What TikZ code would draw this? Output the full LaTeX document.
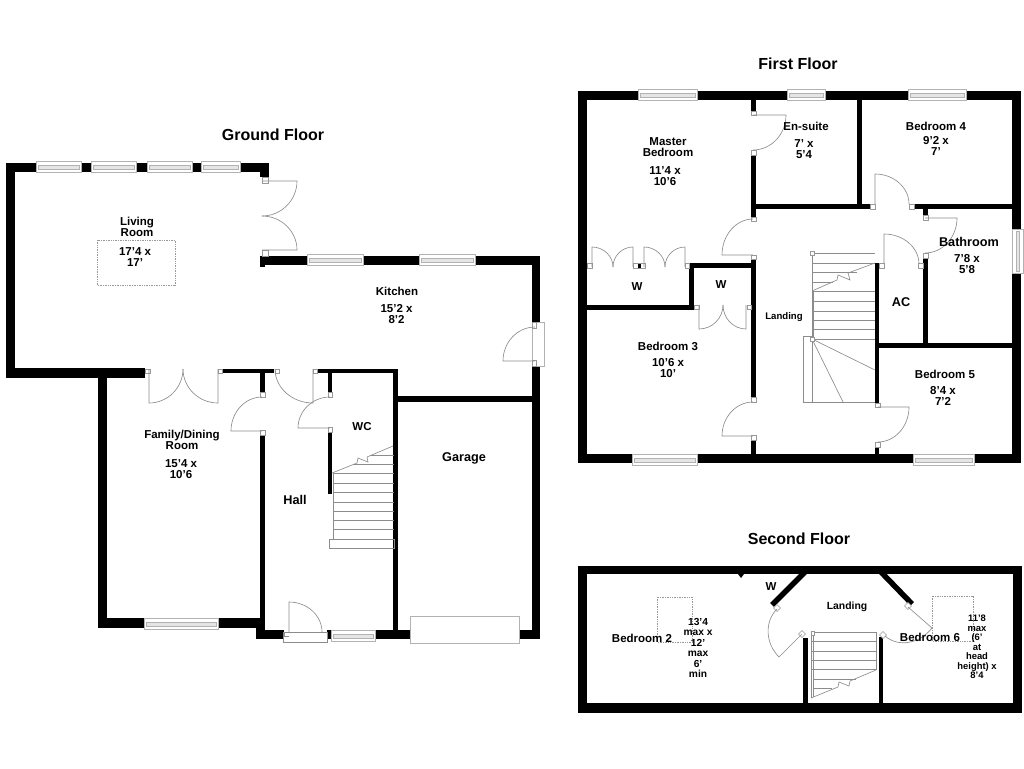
\documentclass[tikz,border=0pt]{standalone}
\usepackage{fontspec}
\setmainfont{Liberation Sans}
\usetikzlibrary{calc}
\tikzset{
  wallfill/.style={fill=black},
  thinline/.style={draw=black!45,line width=0.65pt},
  stairline/.style={draw=black!45,line width=0.65pt},
  framebox/.style={draw=black!40,fill=white,line width=0.55pt},
  winline/.style={draw=black!30,fill=white,line width=0.65pt},
  roofline/.style={draw=black!40,densely dotted,line width=0.7pt},
  slantwall/.style={draw=black,line width=5.5pt},
  title/.style={font=\fontsize{16}{16}\selectfont\bfseries,inner sep=0pt},
  room/.style={font=\fontsize{11.5}{11.7}\selectfont\bfseries,align=center,inner sep=0pt},
  bigroom/.style={font=\fontsize{12.7}{13}\selectfont\bfseries,align=center,inner sep=0pt},
  smallroom/.style={font=\fontsize{9.6}{11}\selectfont\bfseries,align=center,inner sep=0pt}
}
% hinge, open end of the leaf, closing point
\newcommand{\swing}[3]{\draw[thinline] (#1) -- (#2) .. controls ($(#2)+0.55*(#3)-0.55*(#1)$) and ($(#3)+0.55*(#2)-0.55*(#1)$) .. (#3);}
\newcommand{\hwin}[4]{\draw[winline] (#1,#2) rectangle (#3,#4);
  \draw[winline,fill=black!10] ({#1+2},{#2+4}) rectangle ({#3-2},{#4-3});}
\newcommand{\vwin}[4]{\draw[winline] (#1,#2) rectangle (#3,#4);
  \draw[winline,fill=black!10] ({#1+4},{#2+2}) rectangle ({#3-4},{#4-2});}
\begin{document}
\begin{tikzpicture}[x=1pt,y=-1pt]
  \useasboundingbox (0,0) rectangle (1024,768);
  % ground floor walls
  \foreach \xa/\ya/\xb/\yb in {6/163/269/172, 260/163/269/177, 6/163/15/378, 6/368/145/378,
      98/369/107/628, 107/369/145/373, 222/369/274/373, 317/369/398/373, 260/369/265/392,
      260/435/265/618, 98/618/262/628, 256/630/284/639, 256/618/265/639, 327/630/331/639,
      375/630/540/639, 393/369/398/630, 328/373/332/392, 328/432/332/494,
      260/256/540/265, 260/256/265/267, 532/256/540/322, 532/366/540/639, 398/396/532/402}
    \fill[wallfill] (\xa,\ya) rectangle (\xb,\yb);
  \hwin{36}{161}{81}{172} \hwin{91}{161}{136}{172} \hwin{147}{161}{192}{172} \hwin{201}{161}{240}{172}
  \hwin{307}{254}{363}{265} \hwin{419}{254}{475}{265}
  \hwin{144}{618}{218}{629} \hwin{331}{630}{375}{641}
  \draw[winline] (410,616) rectangle (519,643);
  \draw[winline] (532,322) rectangle (544,366);
  \foreach \xa/\ya/\xb/\yb in {262/177/268/183, 262/250/268/256, 145/369/150/373, 218/369/222/373,
      260/392/265/397, 260/430/265/435, 275/369/279/373, 313/369/317/373,
      328/392/332/397, 328/427/332/432, 532/322/536/328, 532/360/536/366}
    \draw[framebox] (\xa,\ya) rectangle (\xb,\yb);
  \draw[thinline] (283,632) rectangle (327,642);
  \draw[thinline] (284,632) -- (284,636) -- (289,636);
  \swing{262,181}{297,181}{262,216}
  \swing{262,250}{297,250}{262,216}
  \swing{149,369}{149,403}{183,369}
  \swing{218,369}{218,403}{183,369}
  \swing{262,431}{231,431}{262,397}
  \swing{313,369}{313,403}{275,369}
  \swing{330,428}{298,428}{330,397}
  \swing{289,632}{289,602}{322,632}
  \swing{535,361}{503,361}{535,327}
  \draw[roofline] (97,240) rectangle (175,285);
  % ground floor stairs
  \foreach \ty in {473,483,492,502,511,520,529,539}
    \draw[stairline] (333,\ty) -- (394,\ty);
  \draw[stairline] (370,455) -- (394,455) (353,464) -- (394,464);
  \draw[stairline] (333,473) -- (333,539) (329,548) rectangle (394,539);
  \draw[stairline] (332,473) -- (357,463) -- (358,458) -- (368,462) -- (367,457) -- (393,446);
  \node[title] (groundtitle) at (273,135) {Ground Floor};
  \node[room] (livinglabel) at (137,227) {Living\\Room};
  \node[room] (livingsize) at (135,257) {17'4 x\\17'};
  \node[room] (kitchenlabel) at (397,291) {Kitchen};
  \node[room] (kitchensize) at (396.5,314) {15'2 x\\8'2};
  \node[room] (familylabel) at (182,440) {Family/Dining\\Room};
  \node[room] (familysize) at (181,469) {15'4 x\\10'6};
  \node[bigroom] (halllabel) at (295,500) {Hall};
  \node[room] (wclabel) at (362,427) {WC};
  \node[bigroom] (garagelabel) at (464,458) {Garage};
  % first floor walls
  \foreach \xa/\ya/\xb/\yb in {578/91/1021/100, 578/91/587/463, 578/454/1021/463, 1012/91/1021/229,
      1012/273/1021/463, 751/100/756/111, 751/155/756/217, 751/204/870/209, 914/204/1012/209,
      857/100/862/204, 923/209/928/215, 923/258/928/343, 879/343/1012/348, 875/263/879/403,
      875/447/879/454, 751/259/756/397, 751/440/756/454, 690/263/751/268, 689/263/694/310, 587/305/694/310}
    \fill[wallfill] (\xa,\ya) rectangle (\xb,\yb);
  \hwin{638}{89}{697}{100} \hwin{787}{89}{825}{100} \hwin{908}{89}{966}{100}
  \hwin{632}{454}{697}{465} \hwin{913}{454}{974}{465}
  \vwin{1012}{229}{1023}{273}
  \foreach \xa/\ya/\xb/\yb in {751/111/756/115, 751/150/756/155, 870/204/875/209, 909/204/914/209,
      923/215/928/220, 923/253/928/258, 879/263/884/268, 918/263/923/268, 875/403/880/407, 875/442/880/447,
      751/217/756/221, 751/255/756/259, 751/397/756/402, 751/435/756/440, 587/263/592/268,
      633/263/645/268, 685/263/689/268, 694/305/699/309, 747/305/751/309}
    \draw[framebox] (\xa,\ya) rectangle (\xb,\yb);
  \fill[wallfill] (638,264) rectangle (641,268);
  \swing{753,115}{786,115}{753,150}
  \swing{875,204}{875,174}{909,204}
  \swing{925,218}{957,218}{925,253}
  \swing{884,264}{884,234}{919,264}
  \swing{878,407}{909,407}{878,442}
  \swing{753,255}{722,255}{753,219}
  \swing{753,436}{722,436}{753,402}
  \swing{592,267}{592,247}{613,267}
  \swing{633,267}{633,247}{613,267}
  \swing{644,267}{644,247}{665,267}
  \swing{685,267}{685,247}{665,267}
  \swing{699,305}{699,329}{723,305}
  \swing{746,305}{746,329}{723,305}
  % first floor stairs
  \foreach \ty in {253,263,291,301,311,320,329,339}
    \draw[stairline] (812,\ty) -- (875,\ty);
  \draw[stairline] (812,272) -- (857,272) (812,282) -- (833,282);
  \draw[stairline] (812,253) -- (812,402) (813,291) -- (813,339);
  \draw[stairline] (812,291) -- (837,280) -- (838,275) -- (850,280) -- (848,273) -- (875,263);
  \draw[stairline] (812,336) -- (803,336) -- (803,402) -- (875,402);
  \draw[stairline] (875,370) -- (812,339) -- (843,402);
  \draw[framebox] (810,337) rectangle (814,341);
  \draw[framebox] (810,251) rectangle (814,255);
  \node[title] (firsttitle) at (798,64) {First Floor};
  \node[room] (masterlabel) at (668,147) {Master\\Bedroom};
  \node[room] (mastersize) at (665,176) {11'4 x\\10'6};
  \node[room] (ensuitelabel) at (806,126) {En-suite};
  \node[room] (ensuitesize) at (804,149) {7' x\\5'4};
  \node[room] (bedfourlabel) at (936,126) {Bedroom 4};
  \node[room] (bedfoursize) at (936,146) {9'2 x\\7'};
  \node[bigroom] (bathlabel) at (969,242) {Bathroom};
  \node[room] (bathsize) at (967,264) {7'8 x\\5'8};
  \node[bigroom] (aclabel) at (901,302) {AC};
  \node[smallroom] (landinglabel) at (784,317) {Landing};
  \node[room] (wardrobea) at (637,287) {W};
  \node[room] (wardrobeb) at (721,285) {W};
  \node[room] (bedthreelabel) at (668,346) {Bedroom 3};
  \node[room] (bedthreesize) at (668,368) {10'6 x\\10'};
  \node[room] (bedfivelabel) at (945,374) {Bedroom 5};
  \node[room] (bedfivesize) at (943,396) {8'4 x\\7'2};
  % second floor walls
  \foreach \xa/\ya/\xb/\yb in {578/566/1022/574, 578/566/587/713, 578/703/1022/713, 1013/566/1022/713,
      803/638/808/703, 879/637/883/703}
    \fill[wallfill] (\xa,\ya) rectangle (\xb,\yb);
  \fill[wallfill] (738,574) -- (744,574) -- (741,578) -- cycle;
  \draw[slantwall] (805,572) -- (772,605);
  \draw[slantwall] (881,572) -- (912,604);
  \foreach \cx/\cy in {777/608, 802/634, 883/635, 908/606}
    \draw[framebox,rotate around={45:(\cx,\cy)}] ({\cx-2.5},{\cy-2.5}) rectangle ({\cx+2.5},{\cy+2.5});
  \swing{802,634}{779,657}{777,609}
  \swing{908,607}{932,628}{885,636}
  \draw[roofline] (657,597) rectangle (692,642);
  \draw[roofline] (932,596) rectangle (973,641);
  % second floor stairs
  \foreach \ty in {632,641,651,660,669}
    \draw[stairline] (811,\ty) -- (876,\ty);
  \draw[stairline] (813,679) -- (856,679) (813,688) -- (832,688);
  \draw[stairline] (811,632) -- (811,698) (813,632) -- (813,697) (876,632) -- (876,670);
  \draw[stairline] (811,698) -- (838,687) -- (839,682) -- (849,686) -- (850,681) -- (876,670);
  \draw[framebox] (811,631) rectangle (814,635);
  \node[title] (secondtitle) at (799,539) {Second Floor};
  \node[room] (bedtwolabel) at (642,638) {Bedroom 2};
  \node[room,font=\fontsize{10.2}{10.4}\selectfont\bfseries] (bedtwosize) at (698,648) {13'4\\max x\\12'\\max\\6'\\min};
  \node[room] (wardrobec) at (771,587) {W};
  \node[room,font=\fontsize{10.4}{11}\selectfont\bfseries] (toplandlabel) at (847,607) {Landing};
  \node[room] (bedsixlabel) at (930,637) {Bedroom 6};
  \node[room,font=\fontsize{9.4}{9.5}\selectfont\bfseries] (bedsixsize) at (977,647) {11'8\\max\\(6'\\at\\head\\height) x\\8'4};
\end{tikzpicture}
\end{document}
